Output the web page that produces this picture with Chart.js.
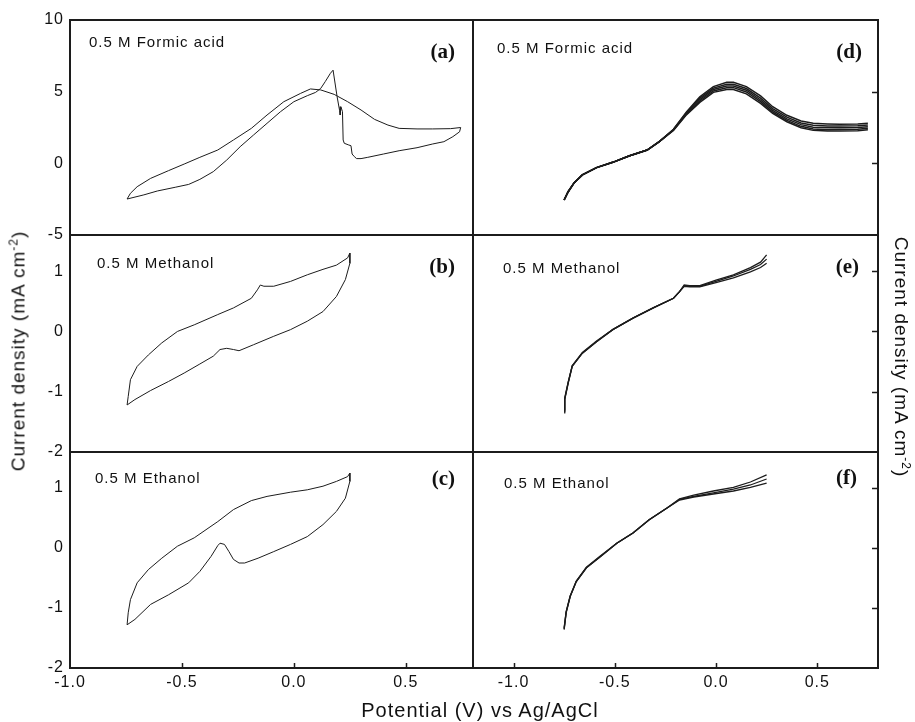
<!DOCTYPE html>
<html><head><meta charset="utf-8">
<script src="https://cdn.jsdelivr.net/npm/chart.js@4.4.0/dist/chart.umd.min.js"></script>
<style>
html,body{margin:0;padding:0;background:#fff;}
#root{position:relative;width:915px;height:722px;overflow:hidden;font-family:"Liberation Sans",Arial,sans-serif;background:#fff;}
.panel{position:absolute;}
.title{position:absolute;white-space:nowrap;font-size:19px;letter-spacing:1px;color:#111;line-height:1;}
.title sup{font-size:12px;line-height:0;vertical-align:7px;}
#xTitle{left:480px;top:710px;transform:translate(-50%,-50%);font-size:20px;}
#yTitleL{left:18px;top:351px;transform:translate(-50%,-50%) rotate(-90deg);}
#yTitleR{left:901px;top:357px;transform:translate(-50%,-50%) rotate(90deg);}
</style></head><body>
<div id="root">
<div class="title" id="xTitle">Potential (V) vs Ag/AgCl</div>
<div class="title" id="yTitleL">Current density (mA cm<sup>-2</sup>)</div>
<div class="title" id="yTitleR">Current density (mA cm<sup>-2</sup>)</div>
</div>
<script>
// ---------- tick labels ----------
const xTicks = [-1.0, -0.5, 0.0, 0.5];
const yTicksFormic = [10, 5, 0, -5];
const yTicksAlcohol = [1, 0, -1, -2];
const yInnerFormic = [5, 0];
const yInnerAlcohol = [1, 0, -1];

// ---------- (a) formic acid, single CV ----------
const aForwardPotential = [-0.745,-0.73,-0.70,-0.64,-0.56,-0.49,-0.42,-0.34,-0.27,-0.19,-0.12,-0.045,0.03,0.074,0.12,0.18,0.24,0.30,0.36,0.42,0.47,0.55,0.62,0.70,0.745];
const aForwardCurrent   = [-2.49,-2.09,-1.63,-1.05,-0.51,-0.05,0.42,0.93,1.63,2.44,3.37,4.30,4.88,5.19,5.12,4.81,4.30,3.72,3.07,2.67,2.44,2.40,2.40,2.42,2.50];
const aReversePotential = [0.745,0.74,0.71,0.67,0.62,0.55,0.47,0.40,0.33,0.30,0.28,0.27,0.26,0.255,0.245,0.225,0.22,0.217,0.21,0.207,0.204,0.193,0.175,0.163,0.14,0.12,0.097,0.06,0.0,-0.06,-0.12,-0.18,-0.24,-0.30,-0.36,-0.42,-0.47,-0.53,-0.61,-0.67,-0.745];
const aReverseCurrent   = [2.50,2.20,1.86,1.51,1.35,1.09,0.88,0.65,0.42,0.33,0.33,0.47,0.65,1.23,1.28,1.40,1.63,3.60,3.95,3.37,3.70,4.65,6.50,6.28,5.70,5.23,4.95,4.72,4.30,3.60,2.79,1.98,1.16,0.23,-0.58,-1.12,-1.47,-1.67,-1.93,-2.20,-2.49];

// ---------- (b) methanol, single CV ----------
const bForwardPotential = [-0.745,-0.74,-0.73,-0.70,-0.65,-0.59,-0.52,-0.445,-0.34,-0.27,-0.19,-0.163,-0.15,-0.134,-0.09,-0.015,0.06,0.13,0.19,0.24,0.25];
const bForwardCurrent   = [-1.22,-1.08,-0.80,-0.58,-0.39,-0.19,0.0,0.11,0.28,0.39,0.55,0.69,0.77,0.75,0.75,0.83,0.94,1.03,1.10,1.22,1.30];
const bReversePotential = [0.25,0.25,0.23,0.19,0.13,0.06,-0.015,-0.09,-0.18,-0.245,-0.27,-0.30,-0.33,-0.36,-0.42,-0.49,-0.56,-0.64,-0.71,-0.745];
const bReverseCurrent   = [1.30,1.13,0.86,0.58,0.33,0.17,0.03,-0.08,-0.22,-0.32,-0.30,-0.28,-0.30,-0.41,-0.54,-0.69,-0.83,-0.98,-1.13,-1.22];

// ---------- (c) ethanol, single CV ----------
const cForwardPotential = [-0.745,-0.74,-0.73,-0.70,-0.65,-0.59,-0.52,-0.445,-0.34,-0.27,-0.19,-0.12,-0.015,0.06,0.13,0.19,0.24,0.25];
const cForwardCurrent   = [-1.28,-1.08,-0.86,-0.58,-0.36,-0.17,0.03,0.17,0.44,0.64,0.79,0.86,0.93,0.97,1.03,1.11,1.19,1.25];
const cReversePotential = [0.25,0.25,0.23,0.19,0.13,0.06,-0.015,-0.09,-0.16,-0.22,-0.245,-0.27,-0.29,-0.31,-0.33,-0.34,-0.37,-0.42,-0.47,-0.56,-0.64,-0.71,-0.745];
const cReverseCurrent   = [1.25,1.11,0.83,0.61,0.39,0.19,0.06,-0.06,-0.17,-0.25,-0.25,-0.19,-0.06,0.06,0.08,0.04,-0.14,-0.39,-0.58,-0.78,-0.94,-1.19,-1.28];

// ---------- (d) formic acid, repeated scans ----------
const dPotential = [-0.75,-0.73,-0.70,-0.66,-0.59,-0.51,-0.43,-0.34,-0.28,-0.21,-0.145,-0.08,-0.013,0.053,0.086,0.15,0.22,0.28,0.35,0.42,0.48,0.55,0.61,0.70,0.75];
const dScan1 = [-2.56,-1.98,-1.35,-0.81,-0.30,0.07,0.51,0.93,1.51,2.38,3.60,4.65,5.35,5.65,5.65,5.35,4.70,3.95,3.35,2.95,2.80,2.75,2.72,2.75,2.80];
const dScan2 = [-2.56,-1.98,-1.35,-0.81,-0.30,0.07,0.51,0.93,1.51,2.36,3.55,4.55,5.25,5.52,5.52,5.22,4.55,3.82,3.22,2.82,2.65,2.60,2.60,2.62,2.68];
const dScan3 = [-2.56,-1.98,-1.35,-0.81,-0.30,0.07,0.51,0.93,1.51,2.34,3.50,4.45,5.15,5.40,5.40,5.10,4.42,3.70,3.10,2.70,2.52,2.48,2.48,2.50,2.55];
const dScan4 = [-2.56,-1.98,-1.35,-0.81,-0.30,0.07,0.51,0.93,1.51,2.32,3.45,4.35,5.05,5.28,5.28,4.98,4.30,3.58,3.00,2.58,2.40,2.35,2.36,2.38,2.45];
const dScan5 = [-2.56,-1.98,-1.35,-0.81,-0.30,0.07,0.51,0.93,1.51,2.30,3.40,4.25,4.95,5.15,5.15,4.85,4.18,3.48,2.90,2.48,2.30,2.25,2.25,2.28,2.35];

// ---------- (e) methanol, repeated scans ----------
const ePotential = [-0.75,-0.747,-0.73,-0.71,-0.66,-0.59,-0.51,-0.41,-0.31,-0.21,-0.18,-0.157,-0.13,-0.08,0.0,0.086,0.17,0.22,0.25];
const eScan1 = [-1.35,-1.13,-0.86,-0.58,-0.36,-0.17,0.03,0.22,0.39,0.55,0.66,0.77,0.76,0.76,0.85,0.94,1.06,1.15,1.27];
const eScan2 = [-1.33,-1.12,-0.85,-0.57,-0.36,-0.17,0.03,0.22,0.39,0.55,0.66,0.76,0.75,0.75,0.83,0.92,1.03,1.11,1.20];
const eScan3 = [-1.30,-1.10,-0.84,-0.57,-0.35,-0.16,0.03,0.22,0.39,0.55,0.66,0.75,0.74,0.74,0.81,0.89,0.99,1.06,1.13];

// ---------- (f) ethanol, repeated scans ----------
const fPotential = [-0.75,-0.74,-0.72,-0.69,-0.64,-0.57,-0.49,-0.41,-0.33,-0.24,-0.18,-0.11,-0.013,0.086,0.17,0.25];
const fScan1 = [-1.36,-1.08,-0.81,-0.56,-0.33,-0.14,0.08,0.25,0.47,0.67,0.82,0.88,0.95,1.01,1.10,1.22];
const fScan2 = [-1.35,-1.07,-0.80,-0.56,-0.33,-0.14,0.08,0.25,0.47,0.67,0.81,0.86,0.92,0.98,1.05,1.15];
const fScan3 = [-1.33,-1.06,-0.80,-0.55,-0.32,-0.13,0.08,0.25,0.47,0.67,0.80,0.85,0.90,0.95,1.01,1.08];

// ---------- helpers ----------
const pts = (xs, ys) => xs.map((x, i) => ({x: x, y: ys[i]}));
const INK = '#1c1c1c';
const line = (xs, ys, w) => ({data: pts(xs, ys), showLine: true, pointRadius: 0, borderColor: INK, borderWidth: w, tension: 0, fill: false});
const PAD = {l: 72, t: 12, r: 4, b: 34};
const YW = 70, XH = 32;
const tickFont = {family: '"Liberation Sans", Arial, sans-serif', size: 16};

function zeroFit(s) { s.paddingLeft = 0; s.paddingRight = 0; s.paddingTop = 0; s.paddingBottom = 0; }

function deco(cfg) {
  return {
    id: 'deco' + cfg.tag,
    beforeDraw(chart) { try { chart.ctx.letterSpacing = '1px'; } catch (e) {} },
    afterDraw(chart) {
      const ctx = chart.ctx, a = chart.chartArea;
      const xs = chart.scales.x, ys = chart.scales.y;
      ctx.save();
      ctx.strokeStyle = INK;
      ctx.lineWidth = 1.5;
      ctx.beginPath();
      (cfg.xInner || []).forEach(v => { const p = Math.round(xs.getPixelForValue(v)) + 0.5; ctx.moveTo(p, a.bottom); ctx.lineTo(p, a.bottom - 5); });
      (cfg.yInner || []).forEach(v => { const p = Math.round(ys.getPixelForValue(v)) + 0.5; ctx.moveTo(a.right, p); ctx.lineTo(a.right - 6, p); });
      ctx.stroke();
      ctx.lineWidth = 2;
      ctx.strokeRect(a.left, a.top, a.right - a.left, a.bottom - a.top);
      ctx.fillStyle = '#111';
      try { ctx.letterSpacing = '1px'; } catch (e) {}
      ctx.font = '15px "Liberation Sans", Arial, sans-serif';
      ctx.textAlign = 'left'; ctx.textBaseline = 'alphabetic';
      ctx.fillText(cfg.name, a.left + cfg.nameDx, a.top + cfg.nameDy);
      try { ctx.letterSpacing = '0px'; } catch (e) {}
      ctx.font = 'bold 21px "Liberation Serif", "Times New Roman", serif';
      ctx.textAlign = 'right';
      ctx.fillText(cfg.tag, a.right - cfg.tagDx, a.top + cfg.tagDy);
      ctx.restore();
    }
  };
}

const panels = [
  {tag: '(a)', rect: {x: 70, y: 20, w: 403, h: 215}, xr: [-1.0, 0.8], yr: [-5, 10], yLabels: yTicksFormic, showX: false, yInner: [],
   name: '0.5 M Formic acid', nameDx: 19, nameDy: 27, tagDx: 18, tagDy: 38,
   sets: [line(aForwardPotential, aForwardCurrent, 1), line(aReversePotential, aReverseCurrent, 1)]},
  {tag: '(b)', rect: {x: 70, y: 235, w: 403, h: 217}, xr: [-1.0, 0.8], yr: [-2, 1.6], yLabels: yTicksAlcohol, showX: false, yInner: [],
   name: '0.5 M Methanol', nameDx: 27, nameDy: 33, tagDx: 18, tagDy: 38,
   sets: [line(bForwardPotential, bForwardCurrent, 1), line(bReversePotential, bReverseCurrent, 1)]},
  {tag: '(c)', rect: {x: 70, y: 452, w: 403, h: 216}, xr: [-1.0, 0.8], yr: [-2, 1.6], yLabels: yTicksAlcohol, showX: true, yInner: [],
   name: '0.5 M Ethanol', nameDx: 25, nameDy: 31, tagDx: 18, tagDy: 33,
   sets: [line(cForwardPotential, cForwardCurrent, 1), line(cReversePotential, cReverseCurrent, 1)]},
  {tag: '(d)', rect: {x: 473, y: 20, w: 405, h: 215}, xr: [-1.2, 0.8], yr: [-5, 10], yLabels: null, showX: false, yInner: yInnerFormic,
   name: '0.5 M Formic acid', nameDx: 24, nameDy: 33, tagDx: 16, tagDy: 38,
   sets: [line(dPotential, dScan1, 1.5), line(dPotential, dScan2, 1.5), line(dPotential, dScan3, 1.5), line(dPotential, dScan4, 1.5), line(dPotential, dScan5, 1.5)]},
  {tag: '(e)', rect: {x: 473, y: 235, w: 405, h: 217}, xr: [-1.2, 0.8], yr: [-2, 1.6], yLabels: null, showX: false, yInner: yInnerAlcohol,
   name: '0.5 M Methanol', nameDx: 30, nameDy: 38, tagDx: 19, tagDy: 38,
   sets: [line(ePotential, eScan1, 1.3), line(ePotential, eScan2, 1.3), line(ePotential, eScan3, 1.3)]},
  {tag: '(f)', rect: {x: 473, y: 452, w: 405, h: 216}, xr: [-1.2, 0.8], yr: [-2, 1.6], yLabels: null, showX: true, yInner: yInnerAlcohol,
   name: '0.5 M Ethanol', nameDx: 31, nameDy: 36, tagDx: 21, tagDy: 32,
   sets: [line(fPotential, fScan1, 1.3), line(fPotential, fScan2, 1.3), line(fPotential, fScan3, 1.3)]}
];

const root = document.getElementById('root');
panels.forEach(p => {
  const W = p.rect.w + PAD.l + PAD.r, H = p.rect.h + PAD.t + PAD.b;
  const div = document.createElement('div');
  div.className = 'panel';
  div.style.left = (p.rect.x - PAD.l) + 'px';
  div.style.top = (p.rect.y - PAD.t) + 'px';
  div.style.width = W + 'px'; div.style.height = H + 'px';
  const cv = document.createElement('canvas');
  cv.width = W; cv.height = H;
  cv.style.width = W + 'px'; cv.style.height = H + 'px';
  div.appendChild(cv);
  root.insertBefore(div, root.firstChild);
  const padL = p.yLabels ? PAD.l - YW : PAD.l;
  const padB = p.showX ? PAD.b - XH : PAD.b;
  new Chart(cv, {
    type: 'scatter',
    data: {datasets: p.sets},
    options: {
      responsive: false, animation: false, devicePixelRatio: 1, events: [],
      layout: {padding: {left: padL, top: PAD.t, right: PAD.r, bottom: padB}},
      plugins: {legend: {display: false}, tooltip: {enabled: false}},
      scales: {
        x: {
          type: 'linear', min: p.xr[0], max: p.xr[1], display: p.showX,
          afterBuildTicks: s => { s.ticks = xTicks.map(v => ({value: v})); },
          afterFit: s => { s.height = p.showX ? XH : 0; zeroFit(s); },
          grid: {display: false, drawTicks: false}, border: {display: false},
          ticks: {padding: 5, font: tickFont, color: '#111', maxRotation: 0, autoSkip: false, callback: v => Number(v).toFixed(1)}
        },
        y: {
          type: 'linear', min: p.yr[0], max: p.yr[1], display: !!p.yLabels, position: 'left',
          afterBuildTicks: s => { s.ticks = (p.yLabels || []).map(v => ({value: v})); },
          afterFit: s => { s.width = p.yLabels ? YW : 0; zeroFit(s); },
          grid: {display: false, drawTicks: false}, border: {display: false},
          ticks: {padding: 6, font: tickFont, color: '#111', autoSkip: false, callback: v => String(v)}
        }
      }
    },
    plugins: [deco({tag: p.tag, name: p.name, nameDx: p.nameDx, nameDy: p.nameDy, tagDx: p.tagDx, tagDy: p.tagDy,
                    xInner: p.showX ? xTicks.filter(v => v > p.xr[0]) : [], yInner: p.yInner})]
  });
});
</script>
</body></html>
